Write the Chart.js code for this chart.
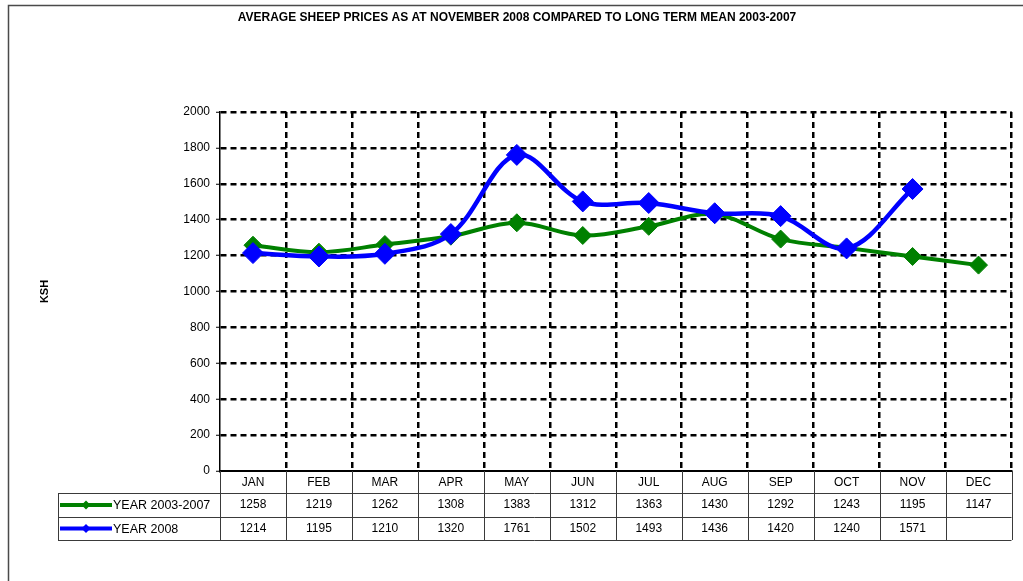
<!DOCTYPE html>
<html>
<head>
<meta charset="utf-8">
<script src="https://cdn.jsdelivr.net/npm/chart.js@4"></script>
<style>
html,body{margin:0;padding:0;background:#fff;}
canvas{display:block;}
</style>
</head>
<body>
<canvas id="c" width="1023" height="581" style="width:1023px;height:581px"></canvas>
<script>
const chartTitle = 'AVERAGE SHEEP PRICES AS AT NOVEMBER 2008 COMPARED TO LONG TERM MEAN 2003-2007';
const yAxisTitle = 'KSH';
const months = ['JAN','FEB','MAR','APR','MAY','JUN','JUL','AUG','SEP','OCT','NOV','DEC'];
const seriesNames = ['YEAR 2003-2007', 'YEAR 2008'];
const mean2003to2007 = [1258,1219,1262,1308,1383,1312,1363,1430,1292,1243,1195,1147];
const year2008 = [1214,1195,1210,1320,1761,1502,1493,1436,1420,1240,1571,null];
const yMin = 0, yMax = 2000, yStep = 200;

const FONT = 'Arial, "Liberation Sans", sans-serif';

const framePlugin = {
  id: 'frame',
  beforeDraw(chart) {
    const ctx = chart.ctx;
    ctx.save();
    ctx.strokeStyle = '#4a4a4a';
    ctx.lineWidth = 1.5;
    ctx.beginPath();
    ctx.moveTo(8.5, 600);
    ctx.lineTo(8.5, 5.5);
    ctx.lineTo(1040, 5.5);
    ctx.stroke();
    ctx.restore();
  }
};

const tablePlugin = {
  id: 'dataTable',
  afterDraw(chart) {
    const ctx = chart.ctx;
    const x = chart.scales.x;
    const area = chart.chartArea;
    const top = area.bottom;
    const rowH = [22, 24, 23];
    const r1 = top + rowH[0], r2 = r1 + rowH[1], r3 = r2 + rowH[2];
    const tableLeft = 58;
    const n = months.length;
    const half = (x.getPixelForValue(1) - x.getPixelForValue(0)) / 2;
    ctx.save();
    ctx.strokeStyle = '#3a3a3a';
    ctx.lineWidth = 1;
    ctx.beginPath();
    [r1, r2, r3].forEach(yy => {
      ctx.moveTo(tableLeft, Math.round(yy) + 0.5);
      ctx.lineTo(area.right, Math.round(yy) + 0.5);
    });
    ctx.moveTo(tableLeft + 0.5, r1);
    ctx.lineTo(tableLeft + 0.5, r3);
    for (let i = 0; i <= n; i++) {
      const xx = i < n ? x.getPixelForValue(i) - half : x.getPixelForValue(n - 1) + half;
      ctx.moveTo(Math.round(xx) + 0.5, top);
      ctx.lineTo(Math.round(xx) + 0.5, r3);
    }
    ctx.stroke();

    ctx.fillStyle = '#000';
    ctx.font = '12px ' + FONT;
    ctx.textAlign = 'center';
    ctx.textBaseline = 'middle';
    const rows = [mean2003to2007, year2008];
    for (let i = 0; i < n; i++) {
      const cx = x.getPixelForValue(i);
      ctx.fillText(months[i], cx, top + rowH[0] / 2 + 1);
      rows.forEach((arr, k) => {
        const v = arr[i];
        if (v !== null && v !== undefined) {
          const cy = k === 0 ? (r1 + r2) / 2 : (r2 + r3) / 2;
          ctx.fillText(String(v), cx, cy);
        }
      });
    }
    chart.data.datasets.forEach((ds, k) => {
      const cy = k === 0 ? (r1 + r2) / 2 : (r2 + r3) / 2;
      ctx.strokeStyle = ds.borderColor;
      ctx.lineWidth = 4;
      ctx.beginPath();
      ctx.moveTo(60, cy);
      ctx.lineTo(112, cy);
      ctx.stroke();
      ctx.fillStyle = ds.borderColor;
      ctx.beginPath();
      ctx.moveTo(86, cy - 4.5);
      ctx.lineTo(90.5, cy);
      ctx.lineTo(86, cy + 4.5);
      ctx.lineTo(81.5, cy);
      ctx.closePath();
      ctx.fill();
      ctx.fillStyle = '#000';
      ctx.font = '12.5px ' + FONT;
      ctx.textAlign = 'left';
      ctx.fillText(ds.label, 113, cy + 1);
    });
    ctx.restore();
  }
};

new Chart(document.getElementById('c'), {
  type: 'line',
  data: {
    labels: months,
    datasets: [
      {
        label: seriesNames[0],
        data: mean2003to2007,
        borderColor: '#008000',
        backgroundColor: '#008000',
        borderWidth: 4,
        pointStyle: 'rectRot',
        pointRadius: 9,
        pointBorderWidth: 1,
        tension: 0.35,
        order: 2
      },
      {
        label: seriesNames[1],
        data: year2008,
        borderColor: '#0000FF',
        backgroundColor: '#0000FF',
        borderWidth: 4.5,
        pointStyle: 'rectRot',
        pointRadius: 10.5,
        pointBorderWidth: 1,
        tension: 0.35,
        order: 1
      }
    ]
  },
  options: {
    responsive: false,
    animation: false,
    devicePixelRatio: 1,
    layout: { padding: { left: 20, right: 9, top: 0, bottom: 110 } },
    plugins: {
      legend: { display: false },
      tooltip: { enabled: false },
      title: {
        display: true,
        text: chartTitle,
        color: '#000',
        font: { family: FONT, size: 12, weight: 'bold' },
        padding: { top: 10, bottom: 87.6 }
      }
    },
    scales: {
      x: {
        type: 'category',
        offset: true,
        ticks: { display: false },
        grid: {
          offset: true,
          drawTicks: false,
          lineWidth: 2.5,
          color: c => (c.index === 0 ? 'rgba(0,0,0,0)' : '#000')
        },
        border: { display: true, color: '#000', width: 2, dash: [6, 4] },
        afterFit: s => { s.height = 0; }
      },
      y: {
        min: yMin,
        max: yMax,
        ticks: {
          stepSize: yStep,
          color: '#000',
          padding: 6,
          font: { family: FONT, size: 12 },
          callback: v => String(v)
        },
        grid: {
          lineWidth: 2.5,
          color: c => (c.tick && c.tick.value === 0 ? 'rgba(0,0,0,0)' : '#000'),
          tickColor: '#000',
          tickLength: 4,
          tickWidth: 1,
          tickBorderDash: []
        },
        border: { display: true, color: '#000', width: 1.5, dash: [6, 4] },
        title: {
          display: true,
          text: yAxisTitle,
          color: '#000',
          font: { family: FONT, size: 11, weight: 'bold' },
          padding: { top: 18.4, bottom: 0 }
        },
        afterFit: s => { s.width = 200; }
      }
    }
  },
  plugins: [framePlugin, tablePlugin]
});
</script>
</body>
</html>
